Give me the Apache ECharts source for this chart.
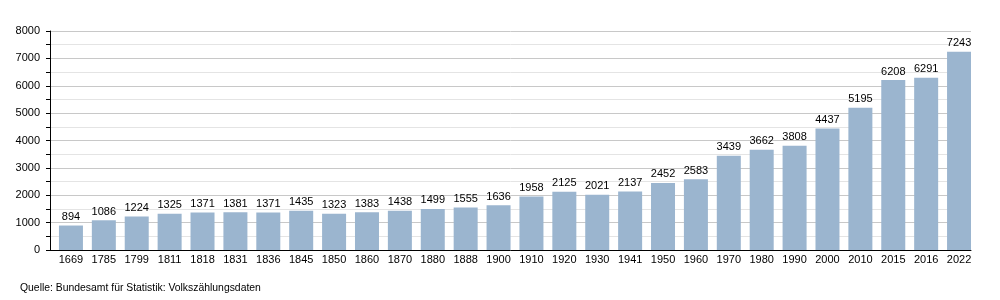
<!DOCTYPE html>
<html><head><meta charset="utf-8">
<script src="https://cdn.jsdelivr.net/npm/echarts@6/dist/echarts.min.js"></script>
<style>html,body{margin:0;padding:0;background:#fff}#c{width:1000px;height:300px}</style>
</head><body><div id="c"></div>
<script>
const years = ['1669','1785','1799','1811','1818','1831','1836','1845','1850','1860','1870','1880','1888','1900','1910','1920','1930','1941','1950','1960','1970','1980','1990','2000','2010','2015','2016','2022'];
const population = [894,1086,1224,1325,1371,1381,1371,1435,1323,1383,1438,1499,1555,1636,1958,2125,2021,2137,2452,2583,3439,3662,3808,4437,5195,6208,6291,7243];
const sourceText = 'Quelle: Bundesamt für Statistik: Volkszählungsdaten';
const F = '"Liberation Sans", Arial, sans-serif';
const chart = echarts.init(document.getElementById('c'), null, {renderer:'canvas'});
chart.setOption({
  animation:false,
  backgroundColor:'#fff',
  textStyle:{fontFamily:F},
  grid:{left:50,right:29,top:31,bottom:50,containLabel:false},
  graphic:[{type:'text',left:20,top:283,style:{text:sourceText,font:'10.4px '+F,fill:'#000'}}],
  xAxis:{type:'category',data:years,
    axisLine:{lineStyle:{color:'#000',width:1}},
    axisTick:{show:false},
    axisLabel:{color:'#000',fontSize:11,fontFamily:F,margin:4,padding:[0,0,0,9]}},
  yAxis:{type:'value',min:0,max:8000,interval:1000,
    axisLine:{show:true,lineStyle:{color:'#000'}},
    axisTick:{show:true,length:4,lineStyle:{color:'#000'}},
    minorTick:{show:true,splitNumber:2,length:4,lineStyle:{color:'#000'}},
    splitLine:{lineStyle:{color:'#c8c8c8'}},
    minorSplitLine:{show:true,lineStyle:{color:'#e4e4e4'}},
    axisLabel:{color:'#000',fontSize:11,fontFamily:F,margin:10,formatter:v=>String(v)}},
  series:[
    {type:'bar',name:'spacer',data:[],barWidth:9,barGap:0,silent:true},
    {type:'bar',name:'Einwohner',data:population,barWidth:24,barGap:0,
    itemStyle:{color:'#9bb5cf'},
    label:{show:true,position:'top',color:'#000',fontSize:11,fontFamily:F,distance:3}}]
});
</script></body></html>
